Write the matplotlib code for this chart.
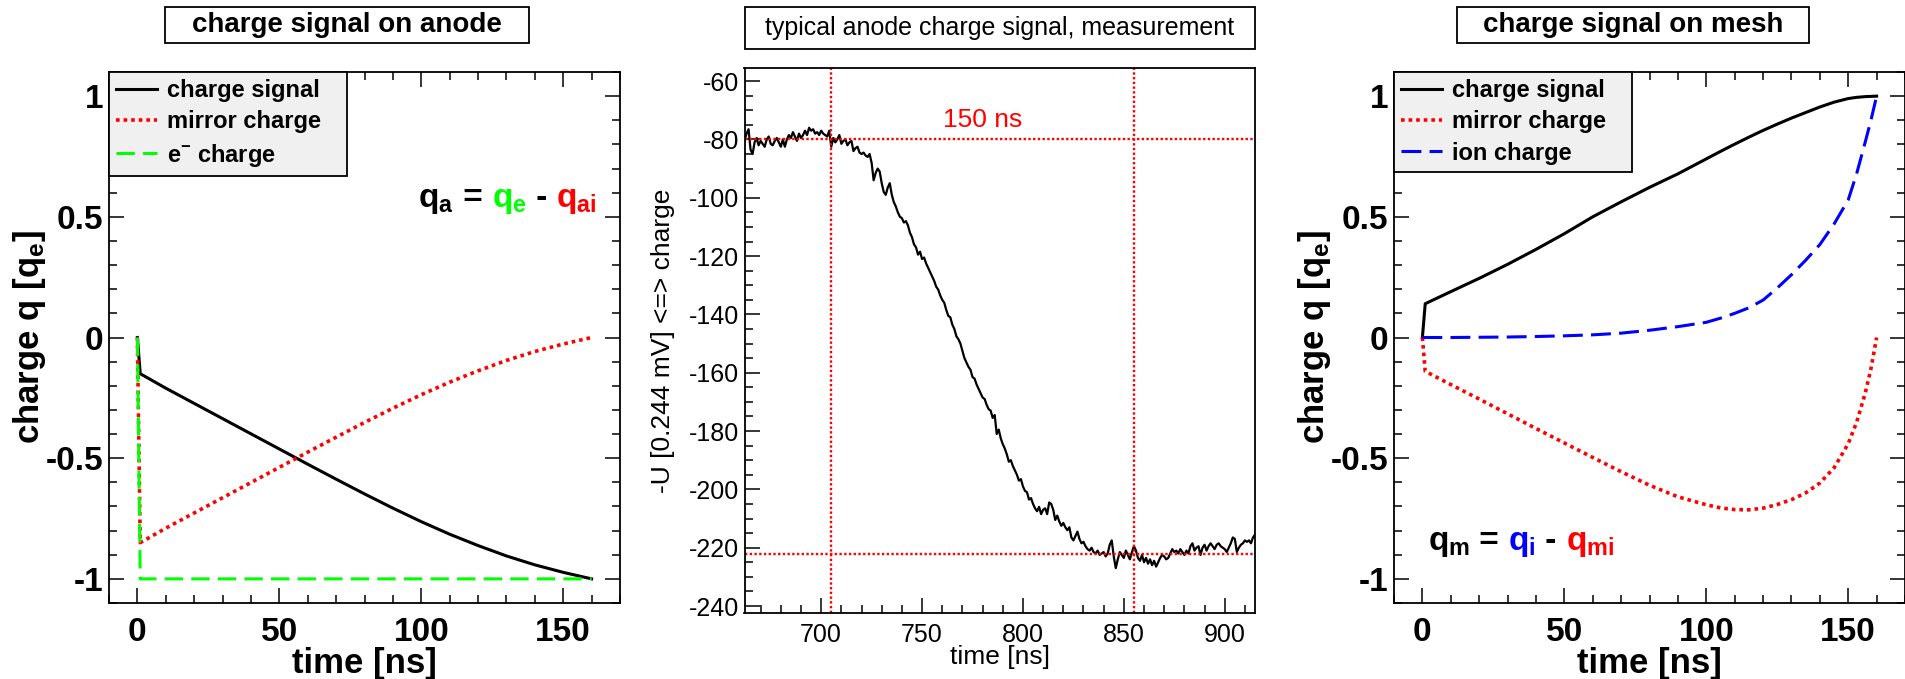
import numpy as np
import matplotlib
matplotlib.use("Agg")
import matplotlib.pyplot as plt
import matplotlib.transforms as mtransforms
from matplotlib.patches import Rectangle
from matplotlib.ticker import MultipleLocator, FuncFormatter

plt.rcParams['font.family'] = ['Liberation Sans', 'DejaVu Sans']
plt.rcParams['mathtext.fontset'] = 'custom'
plt.rcParams['mathtext.rm'] = 'Liberation Sans'
plt.rcParams['mathtext.it'] = 'Liberation Sans:italic'
plt.rcParams['mathtext.bf'] = 'Liberation Sans:bold'
plt.rcParams['axes.unicode_minus'] = False

# ---- simulated anode signal [ns, q_e]
t_anode = [0, 1, 10, 20, 30, 40, 50, 60, 70, 80, 90, 100, 110, 120, 130, 140, 150, 160]
anode_signal = [0, -0.15, -0.21, -0.273, -0.336, -0.399, -0.462, -0.525, -0.587, -0.648,
                -0.707, -0.763, -0.815, -0.862, -0.905, -0.942, -0.973, -1.0]
anode_mirror = [0, -0.85, -0.79, -0.727, -0.664, -0.601, -0.538, -0.475, -0.413, -0.352,
                -0.293, -0.237, -0.185, -0.138, -0.095, -0.058, -0.027, 0.0]
t_electron = [0, 1, 160]
anode_electron = [0, -1, -1]

# ---- simulated mesh signal [ns, q_e]
t_mesh = [0, 1, 10, 20, 30, 40, 50, 60, 70, 80, 90, 100, 105, 110, 115, 120, 125,
          130, 135, 140, 145, 150, 153, 156, 158, 160]
mesh_signal = [0, 0.14, 0.19, 0.245, 0.303, 0.365, 0.43, 0.5, 0.562, 0.622, 0.678, 0.74,
               0.771, 0.801, 0.83, 0.858, 0.884, 0.909, 0.932, 0.955, 0.975, 0.99,
               0.995, 0.998, 0.999, 1.0]
mesh_mirror = [0, -0.14, -0.195, -0.255, -0.316, -0.377, -0.437, -0.497, -0.556, -0.612,
               -0.66, -0.693, -0.706, -0.713, -0.714, -0.707, -0.692, -0.672, -0.644,
               -0.603, -0.54, -0.44, -0.35, -0.23, -0.13, 0.0]
mesh_ion = [0, 0, 0.0, 0.001, 0.002, 0.004, 0.007, 0.011, 0.018, 0.03, 0.045, 0.063,
            0.08, 0.1, 0.123, 0.155, 0.205, 0.26, 0.32, 0.385, 0.47, 0.57, 0.68, 0.81,
            0.9, 1.0]

# ---- measured anode signal, one sample per ns starting at 662 ns
meas_t0 = 662
meas_u = [
    -80.5, -78.0, -76.5, -83.5, -85.0, -81.0, -79.5, -82.0, -80.5, -81.5,
    -82.5, -80.0, -79.0, -81.5, -82.0, -80.5, -79.5, -81.0, -82.5, -80.0,
    -82.5, -80.0, -78.5, -79.5, -77.5, -79.0, -80.5, -78.0, -79.5, -78.5,
    -77.0, -78.5, -76.0, -77.0, -76.5, -78.0, -77.5, -78.5, -77.0, -78.0,
    -78.5, -79.0, -77.0, -82.5, -79.5, -81.0, -80.0, -78.5, -81.5, -80.5,
    -80.0, -82.0, -81.0, -80.5, -84.0, -83.0, -82.5, -84.5, -85.0, -84.5,
    -85.5, -86.0, -85.0, -88.0, -94.0, -91.5, -90.0, -91.0, -95.0, -98.0,
    -99.0, -96.5, -95.0, -99.0, -101.5, -103.0, -105.0, -106.5, -107.0, -108.5,
    -108.0, -109.5, -112.0, -113.5, -116.0, -117.0, -119.5, -118.5, -121.0, -120.5,
    -122.5, -124.0, -125.5, -127.0, -128.5, -130.5, -131.5, -133.5, -135.0, -136.0,
    -138.5, -140.5, -141.0, -143.5, -145.0, -147.5, -148.5, -150.0, -152.5, -155.0,
    -156.5, -158.0, -159.0, -161.5, -162.0, -164.0, -165.5, -167.0, -168.5, -169.0,
    -171.0, -172.5, -173.0, -175.5, -174.5, -181.0, -179.5, -182.5, -184.5, -186.0,
    -188.0, -190.5, -190.0, -192.0, -193.5, -195.0, -197.0, -196.5, -199.0, -200.5,
    -201.0, -203.5, -203.0, -205.0, -206.5, -207.5, -206.0, -208.5, -207.0, -206.5,
    -208.5, -204.5, -205.0, -207.0, -210.5, -209.0, -211.0, -212.5, -211.5, -213.0,
    -214.0, -213.0, -216.5, -217.5, -216.0, -214.5, -217.0, -218.5, -218.0, -219.5,
    -220.5, -221.0, -220.0, -221.5, -222.0, -221.0, -222.5, -222.0, -221.5, -223.0,
    -222.0, -219.0, -217.5, -223.0, -227.0, -224.0, -221.5, -222.5, -223.5, -221.0,
    -222.5, -224.0, -221.5, -219.5, -221.0, -223.5, -224.5, -222.5, -225.0, -223.5,
    -225.5, -224.0, -226.0, -224.5, -226.5, -225.0, -223.5, -222.5, -223.0, -224.0,
    -223.5, -222.0, -220.5, -221.5, -221.0, -222.0, -220.5, -221.5, -222.5, -221.0,
    -222.0, -219.5, -218.5, -221.0, -220.0, -219.5, -222.5, -220.0, -219.0, -221.0,
    -219.5, -218.5, -219.5, -220.5, -219.0, -218.5, -219.5, -220.0, -220.5, -221.5,
    -220.0, -218.5, -216.5, -217.0, -221.5, -220.0, -219.0, -218.5, -217.5, -218.0,
    -217.5, -218.5, -216.5, -215.5,
]
meas_t = meas_t0 + np.arange(len(meas_u))
marker_t = [705, 855]
marker_u = [-79.7, -222.3]

GREEN = '#00ff00'
RED = '#ff0000'
BLUE = '#0000ff'
DOT = (0, (1, 1.1))
DASH = (0, (6, 2.7))

W, H = 1905, 679
fig = plt.figure(figsize=(W / 100, H / 100), dpi=100)


def px_axes(x0, x1, y0, y1):
    return fig.add_axes([x0 / W, (H - y1) / H, (x1 - x0) / W, (y1 - y0) / H])


def title_box(x0, x1, y0, y1, text, size, weight):
    fig.add_artist(Rectangle((x0 / W, (H - y1) / H), (x1 - x0) / W, (y1 - y0) / H,
                             transform=fig.transFigure, facecolor='white',
                             edgecolor='black', lw=1.3))
    fig.text((x0 + x1) / 2 / W, (H - (y0 + y1) / 2) / H, text, ha='center',
             va='center', fontsize=size, fontweight=weight)


def style_sim_axes(ax):
    ax.set_xlim(-10, 170)
    ax.set_ylim(-1.1, 1.1)
    ax.xaxis.set_major_locator(MultipleLocator(50))
    ax.xaxis.set_minor_locator(MultipleLocator(10))
    ax.yaxis.set_major_locator(MultipleLocator(0.5))
    ax.yaxis.set_minor_locator(MultipleLocator(0.1))
    fmt = FuncFormatter(lambda v, p: '%g' % (round(v, 3) + 0.0))
    ax.xaxis.set_major_formatter(fmt)
    ax.yaxis.set_major_formatter(fmt)
    ax.tick_params(which='both', direction='in', top=True, right=True, width=1.1)
    ax.tick_params(which='major', length=11)
    ax.tick_params(which='minor', length=5.5)
    ax.tick_params(axis='x', pad=10)
    ax.tick_params(axis='y', pad=4)
    for lab in ax.get_xticklabels() + ax.get_yticklabels():
        lab.set_fontsize(24)
        lab.set_fontweight('bold')
    for sp in ax.spines.values():
        sp.set_linewidth(1.3)
    ax.set_xlabel('time [ns]', fontsize=25, fontweight='bold', va='top')
    ax.xaxis.set_label_coords(0.5, -0.082)
    ax.set_ylabel(r'charge q [q$_{\mathbf{e}}$]', fontsize=25, fontweight='bold')
    ax.yaxis.set_label_coords(-0.12, 0.5)


def sim_legend(ax):
    leg = ax.legend(loc='upper left', bbox_to_anchor=(0, 1, 0.466, 0), mode='expand',
                    borderaxespad=0, fancybox=False, framealpha=1,
                    facecolor='#f0f0f0', edgecolor='black',
                    prop={'weight': 'bold', 'size': 17}, handlelength=1.75,
                    handletextpad=0.4, labelspacing=0.35, borderpad=0.3)
    leg.get_frame().set_linewidth(1.3)


def colored_formula(ax, x, y, pieces, size):
    renderer = fig.canvas.get_renderer()
    dx = 0
    for s, c in pieces:
        tr = mtransforms.offset_copy(ax.transAxes, fig=fig, x=dx, y=0, units='dots')
        t = ax.text(x, y, s, color=c, fontsize=size, fontweight='bold',
                    transform=tr, ha='left', va='baseline')
        dx += t.get_window_extent(renderer).width


# ---- left: anode
ax1 = px_axes(109, 620, 72, 603)
ax1.plot(t_anode, anode_signal, color='black', lw=2.2, label='charge signal')
ax1.plot(t_anode, anode_mirror, color=RED, lw=2.6, ls=DOT, label='mirror charge')
ax1.plot(t_electron, anode_electron, color=GREEN, lw=2.2, ls=DASH,
         label=r'e$^{\mathbf{-}}$ charge')
style_sim_axes(ax1)
sim_legend(ax1)
title_box(165, 529, 7, 43, 'charge signal on anode', 20, 'bold')

# ---- middle: measurement
ax2 = px_axes(744.5, 1255, 68, 613)
ax2.plot(meas_t, meas_u, color='black', lw=1.6)
for tv in marker_t:
    ax2.axvline(tv, color=RED, lw=1.7, ls=(0, (1, 1)))
for uv in marker_u:
    ax2.axhline(uv, color=RED, lw=1.7, ls=(0, (1, 1)))
ax2.text(780, -73.5, '%d ns' % (marker_t[1] - marker_t[0]), color=RED, fontsize=19,
         ha='center', va='center')
ax2.set_xlim(662, 915)
ax2.set_ylim(-242.4, -55.5)
ax2.xaxis.set_major_locator(MultipleLocator(50))
ax2.xaxis.set_minor_locator(MultipleLocator(10))
ax2.yaxis.set_major_locator(MultipleLocator(20))
ax2.yaxis.set_minor_locator(MultipleLocator(5))
ax2.xaxis.set_major_formatter(FuncFormatter(lambda v, p: '%d' % v))
ax2.yaxis.set_major_formatter(FuncFormatter(lambda v, p: '%d' % v))
ax2.tick_params(which='both', direction='in', width=1.1, labelsize=18)
ax2.tick_params(which='major', length=11)
ax2.tick_params(which='minor', length=5.5)
ax2.tick_params(axis='x', pad=7)
ax2.tick_params(axis='y', pad=4)
for sp in ax2.spines.values():
    sp.set_linewidth(1.3)
ax2.set_xlabel('time [ns]', fontsize=19, va='top')
ax2.xaxis.set_label_coords(0.5, -0.058)
ax2.set_ylabel('-U [0.244 mV] <=> charge', fontsize=19)
ax2.yaxis.set_label_coords(-0.136, 0.5)
title_box(744.5, 1255, 7, 49, 'typical anode charge signal, measurement', 18, 'normal')

# ---- right: mesh
ax3 = px_axes(1394, 1905, 72, 603)
ax3.plot(t_mesh, mesh_signal, color='black', lw=2.2, label='charge signal')
ax3.plot(t_mesh, mesh_mirror, color=RED, lw=2.6, ls=DOT, label='mirror charge')
ax3.plot(t_mesh, mesh_ion, color=BLUE, lw=2.2, ls=(0, (6.5, 2.7)), label='ion charge')
style_sim_axes(ax3)
sim_legend(ax3)
title_box(1457, 1809, 7, 43, 'charge signal on mesh', 20, 'bold')

fig.canvas.draw()
colored_formula(ax1, 0.605, 0.745,
                [(r'$\mathbf{q}_{\mathbf{a}}$', 'black'), (' = ', 'black'),
                 (r'$\mathbf{q}_{\mathbf{e}}$', GREEN), (' - ', 'black'),
                 (r'$\mathbf{q}_{\mathbf{ai}}$', RED)], 24)
colored_formula(ax3, 0.067, 0.1,
                [(r'$\mathbf{q}_{\mathbf{m}}$', 'black'), (' = ', 'black'),
                 (r'$\mathbf{q}_{\mathbf{i}}$', BLUE), (' - ', 'black'),
                 (r'$\mathbf{q}_{\mathbf{mi}}$', RED)], 24)

fig.savefig('out.png', dpi=100)
